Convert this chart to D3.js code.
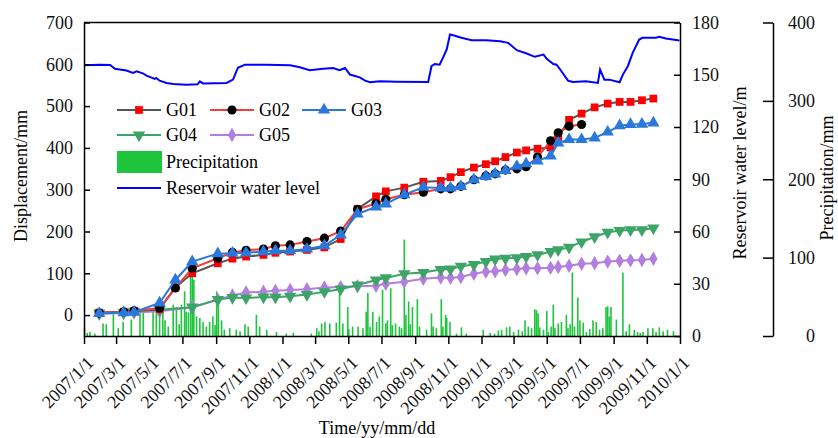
<!DOCTYPE html>
<html>
<head>
<meta charset="utf-8">
<script src="https://cdn.jsdelivr.net/npm/d3@7"></script>
<style>
  body { margin: 0; background: #fff; }
  svg { font-family: "Liberation Serif", "Times New Roman", serif; }
</style>
</head>
<body>
<div id="chart"></div>
<script>
// survey dates of the displacement monitoring points
const surveyDates = [
  "2007-01-29", "2007-03-15", "2007-04-03", "2007-05-20", "2007-06-18", "2007-07-19",
  "2007-09-04", "2007-10-01", "2007-10-26", "2007-11-27", "2007-12-19", "2008-01-15",
  "2008-02-15", "2008-03-18", "2008-04-17", "2008-05-18", "2008-06-21", "2008-07-09",
  "2008-08-12", "2008-09-16", "2008-10-18", "2008-11-05", "2008-11-24", "2008-12-18",
  "2009-01-09", "2009-01-26", "2009-02-14", "2009-03-07", "2009-03-24", "2009-04-14",
  "2009-05-08", "2009-05-22", "2009-06-11", "2009-07-04", "2009-07-28", "2009-08-21",
  "2009-09-12", "2009-10-02", "2009-10-23", "2009-11-13"
];

const g01 = [6, 8, 10, 14, 66, 100, 124, 135, 140, 144, 149, 152, 156, 162, 182, 254, 284, 296,
  305, 319, 321, 330, 342, 353, 361, 368, 378, 389, 394, 398, 401, 426, 467, 482, 497, 506,
  510, 510, 514, 518];
const g02 = [5, 8, 10, 17, 65, 112, 136, 150, 155, 158, 166, 168, 176, 184, 201, 253, 267, 277,
  288, 294, 302, 302, 308, 324, 333, 338, 347, 350, 355, 378, 417, 436, 452, 456];
const g03 = [4, 6, 7, 29, 84, 128, 147, 148, 149, 152, 154, 154, 158, 166, 192, 242, 259, 266,
  288, 306, 304, 304, 308, 324, 332, 338, 346, 356, 362, 369, 381, 412, 420, 420, 424, 438,
  453, 456, 457, 460];
const g04 = [5, 6, 9, 13, null, 19, 37, 42, 41, 43, 43, 45, 49, 56, 62, 72, 84, 89,
  99, 102, 109, 110, 117, 121, 128, 134, 136, 137, 140, 144, 152, 156, 162, 175, 187, 198,
  202, 204, 204, 208];
const g05 = [3, 5, 6, 9, null, 19, 37, 47, 54, 56, 58, 60, 62, 66, 67, 69, 70, 75,
  80, 87, 90, 89, 91, 99, 104, 105, 108, 110, 112, 112, 113, 115, 118, 123, 124, 128,
  130, 131, 132, 135];

// reservoir water level (m)
const reservoir = [
  ["2007-01-01", 155.4], ["2007-01-30", 155.8], ["2007-02-18", 155.6], ["2007-02-27", 153.4],
  ["2007-03-20", 152.4], ["2007-04-01", 151.0], ["2007-04-08", 152.0], ["2007-04-20", 150.7],
  ["2007-04-26", 149.5], ["2007-05-11", 147.6], ["2007-05-14", 148.2], ["2007-05-20", 146.6],
  ["2007-06-02", 145.3], ["2007-06-14", 144.7], ["2007-07-09", 144.3], ["2007-07-29", 144.5],
  ["2007-08-02", 146.2], ["2007-08-08", 145.0], ["2007-09-20", 145.3], ["2007-10-02", 147.2],
  ["2007-10-11", 154.0], ["2007-10-24", 155.8], ["2007-12-03", 155.8], ["2008-01-15", 155.4],
  ["2008-02-02", 154.3], ["2008-02-20", 152.6], ["2008-03-16", 153.4], ["2008-04-03", 153.9],
  ["2008-04-15", 152.6], ["2008-04-25", 153.9], ["2008-05-04", 150.1], ["2008-05-22", 148.5],
  ["2008-06-01", 146.6], ["2008-06-10", 145.7], ["2008-06-28", 146.2], ["2008-07-29", 146.0],
  ["2008-09-25", 145.9], ["2008-10-01", 154.9], ["2008-10-07", 156.2], ["2008-10-16", 155.8],
  ["2008-10-22", 159.7], ["2008-10-29", 164.5], ["2008-11-04", 173.1], ["2008-11-10", 172.7],
  ["2008-11-25", 171.2], ["2008-12-14", 169.8], ["2009-01-10", 169.8], ["2009-02-04", 169.2],
  ["2009-02-19", 168.3], ["2009-03-07", 164.1], ["2009-03-25", 162.2], ["2009-04-09", 160.3],
  ["2009-04-25", 161.6], ["2009-05-01", 159.1], ["2009-05-13", 156.2], ["2009-05-19", 155.8],
  ["2009-05-28", 152.0], ["2009-06-09", 146.6], ["2009-06-18", 145.9], ["2009-07-12", 146.2],
  ["2009-08-03", 145.3], ["2009-08-07", 153.0], ["2009-08-15", 147.2], ["2009-08-24", 147.2],
  ["2009-09-12", 145.7], ["2009-09-18", 150.1], ["2009-09-27", 154.9], ["2009-10-06", 162.6],
  ["2009-10-18", 170.2], ["2009-10-24", 171.2], ["2009-11-18", 171.2], ["2009-11-24", 171.8],
  ["2009-12-06", 170.8], ["2009-12-28", 169.8], ["2009-12-31", 169.6]
];

// daily precipitation (mm), rainy days only
const precipitation = [
  ["2007-01-02", 10], ["2007-01-07", 4], ["2007-01-12", 5], ["2007-01-21", 3], ["2007-02-05", 16],
  ["2007-02-11", 15], ["2007-02-24", 31], ["2007-03-05", 10], ["2007-03-14", 18], ["2007-03-29", 21],
  ["2007-04-14", 31], ["2007-04-20", 35], ["2007-05-08", 31], ["2007-05-14", 29], ["2007-05-20", 25],
  ["2007-05-26", 44], ["2007-05-30", 20], ["2007-06-05", 12], ["2007-06-14", 40], ["2007-06-20", 37],
  ["2007-06-25", 15], ["2007-06-29", 40], ["2007-07-05", 57], ["2007-07-08", 31], ["2007-07-12", 30],
  ["2007-07-16", 98], ["2007-07-19", 97], ["2007-07-22", 72], ["2007-07-27", 25], ["2007-08-02", 23],
  ["2007-08-08", 18], ["2007-08-14", 12], ["2007-08-20", 18], ["2007-08-26", 25], ["2007-08-30", 14],
  ["2007-09-02", 57], ["2007-09-05", 42], ["2007-09-11", 20], ["2007-09-16", 8], ["2007-09-26", 10],
  ["2007-10-08", 8], ["2007-10-15", 6], ["2007-10-24", 15], ["2007-10-30", 12], ["2007-11-14", 27],
  ["2007-11-20", 12], ["2007-12-03", 8], ["2007-12-21", 5], ["2008-01-08", 3], ["2008-01-21", 4],
  ["2008-02-23", 3], ["2008-03-04", 10], ["2008-03-08", 6], ["2008-03-13", 16], ["2008-03-19", 18],
  ["2008-03-28", 16], ["2008-04-09", 17], ["2008-04-15", 59], ["2008-04-21", 16], ["2008-04-30", 37],
  ["2008-05-02", 9], ["2008-05-09", 12], ["2008-05-19", 12], ["2008-05-28", 10], ["2008-06-03", 31],
  ["2008-06-06", 55], ["2008-06-10", 12], ["2008-06-15", 31], ["2008-06-22", 18], ["2008-06-27", 25],
  ["2008-07-03", 59], ["2008-07-09", 16], ["2008-07-12", 20], ["2008-07-18", 61], ["2008-07-21", 14],
  ["2008-07-27", 16], ["2008-08-03", 12], ["2008-08-07", 10], ["2008-08-12", 123], ["2008-08-15", 27],
  ["2008-08-20", 44], ["2008-08-23", 15], ["2008-08-27", 37], ["2008-09-05", 47], ["2008-09-09", 12],
  ["2008-09-22", 8], ["2008-10-01", 29], ["2008-10-04", 12], ["2008-10-10", 10], ["2008-10-19", 47],
  ["2008-10-22", 12], ["2008-10-27", 27], ["2008-10-29", 23], ["2008-11-04", 18], ["2008-11-16", 3],
  ["2008-11-25", 11], ["2008-12-04", 3], ["2009-01-04", 8], ["2009-01-17", 4], ["2009-01-25", 3],
  ["2009-02-01", 7], ["2009-02-07", 8], ["2009-02-16", 11], ["2009-02-22", 12], ["2009-03-01", 5],
  ["2009-03-10", 8], ["2009-03-17", 6], ["2009-03-22", 20], ["2009-03-28", 12], ["2009-04-03", 10],
  ["2009-04-09", 34], ["2009-04-12", 33], ["2009-04-15", 29], ["2009-04-18", 11], ["2009-04-25", 8],
  ["2009-05-01", 32], ["2009-05-04", 5], ["2009-05-09", 12], ["2009-05-13", 40], ["2009-05-16", 10],
  ["2009-05-22", 16], ["2009-05-28", 18], ["2009-06-06", 27], ["2009-06-09", 10], ["2009-06-13", 15],
  ["2009-06-17", 81], ["2009-06-21", 12], ["2009-06-27", 49], ["2009-07-01", 20], ["2009-07-07", 17],
  ["2009-07-13", 5], ["2009-07-19", 9], ["2009-07-25", 20], ["2009-07-31", 18], ["2009-08-06", 8],
  ["2009-08-12", 10], ["2009-08-18", 37], ["2009-08-21", 38], ["2009-08-24", 25], ["2009-08-27", 37],
  ["2009-09-06", 21], ["2009-09-18", 81], ["2009-09-24", 6], ["2009-09-30", 15], ["2009-10-09", 8],
  ["2009-10-15", 5], ["2009-10-20", 4], ["2009-10-25", 5], ["2009-11-03", 10], ["2009-11-12", 10],
  ["2009-11-18", 5], ["2009-11-24", 11], ["2009-12-01", 6], ["2009-12-09", 8], ["2009-12-20", 6]
];

const dispTicks = [0, 100, 200, 300, 400, 500, 600, 700];
const levelTicks = [0, 30, 60, 90, 120, 150, 180];
const precipTicks = [0, 100, 200, 300, 400];

const width = 838, height = 438;
const plotLeft = 84, plotRight = 680, plotTop = 22.5, plotBottom = 336;
const parse = d3.timeParse("%Y-%m-%d");

const svg = d3.select("#chart").append("svg")
    .attr("width", width)
    .attr("height", height);

const x = d3.scaleTime()
    .domain([parse("2007-01-01"), parse("2010-01-01")])
    .range([plotLeft, plotRight]);
const yDisp = d3.scaleLinear().domain([-50, 700]).range([plotBottom, plotTop]);
const yLevel = d3.scaleLinear().domain([0, 180]).range([plotBottom, plotTop]);
const yRain = d3.scaleLinear().domain([0, 400]).range([plotBottom, plotTop]);

// precipitation bars
svg.append("g")
    .attr("fill", "#1ec43c")
    .selectAll("rect")
    .data(precipitation)
    .join("rect")
    .attr("x", d => x(parse(d[0])) - 0.8)
    .attr("width", 1.6)
    .attr("y", d => yRain(d[1]))
    .attr("height", d => yRain(0) - yRain(d[1]));

// reservoir level
svg.append("path")
    .datum(reservoir)
    .attr("fill", "none")
    .attr("stroke", "#0000ff")
    .attr("stroke-width", 2)
    .attr("d", d3.line().x(d => x(parse(d[0]))).y(d => yLevel(d[1])));

const series = [
  { name: "G01", values: g01, line: "#555555", fill: "#ff0000", symbol: d3.symbolSquare, size: 60, rot: 0 },
  { name: "G02", values: g02, line: "#f03c3c", fill: "#000000", symbol: d3.symbolCircle, size: 66, rot: 0 },
  { name: "G03", values: g03, line: "#2a78dc", fill: "#2a78dc", symbol: d3.symbolTriangle, size: 66, rot: 0 },
  { name: "G04", values: g04, line: "#3ca466", fill: "#3ca466", symbol: d3.symbolTriangle, size: 66, rot: 180 },
  { name: "G05", values: g05, line: "#b27ee0", fill: "#b27ee0", symbol: d3.symbolDiamond, size: 60, rot: 0 }
];

const drawOrder = [4, 3, 0, 1, 2];
drawOrder.forEach(i => {
  const s = series[i];
  // skip dates with no reading; the line runs on through them
  const pts = s.values
      .map((v, j) => ({ date: parse(surveyDates[j]), v }))
      .filter(d => d.v != null);
  svg.append("path")
      .datum(pts)
      .attr("fill", "none")
      .attr("stroke", s.line)
      .attr("stroke-width", 2)
      .attr("d", d3.line().x(d => x(d.date)).y(d => yDisp(d.v)));
  svg.append("g")
      .selectAll("path")
      .data(pts)
      .join("path")
      .attr("transform", d => `translate(${x(d.date)},${yDisp(d.v)}) rotate(${s.rot})`)
      .attr("d", d3.symbol(s.symbol, s.size))
      .attr("fill", s.fill);
});

// axes
const fmt = d => `${d.getFullYear()}/${d.getMonth() + 1}/${d.getDate()}`;
const xAxis = svg.append("g")
    .attr("transform", `translate(0,${plotBottom})`)
    .call(d3.axisBottom(x)
      .tickValues(d3.timeMonth.every(2).range(parse("2007-01-01"), parse("2010-01-02")))
      .tickSizeInner(8).tickSizeOuter(0).tickFormat(fmt));
xAxis.selectAll("text")
    .attr("x", 0).attr("y", 0).attr("dy", 0)
    .attr("transform", "translate(10,28) rotate(-45)")
    .attr("text-anchor", "end");

svg.append("g")
    .attr("transform", `translate(${plotLeft},0)`)
    .call(d3.axisLeft(yDisp).tickValues(dispTicks).tickSizeInner(-6).tickSizeOuter(0).tickPadding(11));

svg.append("g")
    .attr("transform", `translate(${plotRight},0)`)
    .call(d3.axisRight(yLevel).tickValues(levelTicks).tickSizeInner(-6).tickSizeOuter(0).tickPadding(12));

const rainAxis = svg.append("g")
    .attr("transform", "translate(773,0)")
    .call(d3.axisRight(yRain).tickValues(precipTicks).tickSizeInner(-10).tickSizeOuter(0));
rainAxis.selectAll("text").attr("x", 42).attr("text-anchor", "end");

svg.append("line")
    .attr("x1", plotLeft).attr("x2", plotRight).attr("y1", plotTop).attr("y2", plotTop)
    .attr("stroke", "#000").attr("stroke-width", 1.5);

svg.selectAll(".domain, .tick line").attr("stroke", "#000").attr("stroke-width", 1.5);
svg.selectAll(".tick text").attr("font-size", 18).attr("font-family", "Liberation Serif").attr("fill", "#111");

// axis titles
svg.append("text")
    .attr("transform", "translate(27,176) rotate(-90)")
    .attr("text-anchor", "middle").attr("font-size", 18)
    .text("Displacement/mm");
svg.append("text")
    .attr("transform", "translate(746,173) rotate(-90)")
    .attr("text-anchor", "middle").attr("font-size", 18)
    .text("Reservoir water level/m");
svg.append("text")
    .attr("transform", "translate(833,178) rotate(-90)")
    .attr("text-anchor", "middle").attr("font-size", 18)
    .text("Precipitation/mm");
svg.append("text")
    .attr("x", 377).attr("y", 434)
    .attr("text-anchor", "middle").attr("font-size", 18)
    .text("Time/yy/mm/dd");

// legend
const legendPos = [[117, 110], [210, 110], [302, 110], [117, 135], [210, 135]];
const legend = svg.append("g").attr("font-size", 18);
series.forEach((s, i) => {
  const [lx, ly] = legendPos[i];
  legend.append("line")
      .attr("x1", lx).attr("x2", lx + 44).attr("y1", ly).attr("y2", ly)
      .attr("stroke", s.line).attr("stroke-width", 2);
  legend.append("path")
      .attr("transform", `translate(${lx + 22},${ly}) rotate(${s.rot})`)
      .attr("d", d3.symbol(s.symbol, s.size))
      .attr("fill", s.fill);
  legend.append("text")
      .attr("x", lx + 49).attr("y", ly).attr("dy", "0.35em")
      .text(s.name);
});
legend.append("rect")
    .attr("x", 117).attr("y", 151).attr("width", 45).attr("height", 22)
    .attr("fill", "#1ec43c");
legend.append("text")
    .attr("x", 166).attr("y", 162).attr("dy", "0.35em")
    .text("Precipitation");
legend.append("line")
    .attr("x1", 117).attr("x2", 161).attr("y1", 188).attr("y2", 188)
    .attr("stroke", "#0000ff").attr("stroke-width", 2);
legend.append("text")
    .attr("x", 166).attr("y", 188).attr("dy", "0.35em")
    .text("Reservoir water level");
</script>
</body>
</html>
